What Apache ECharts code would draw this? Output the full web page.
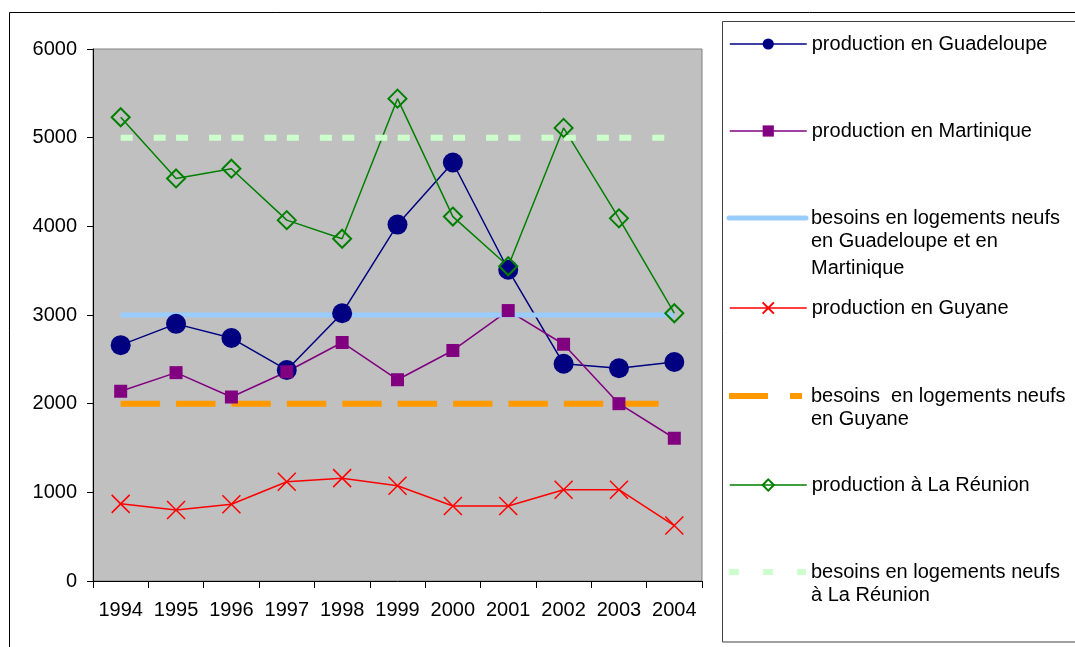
<!DOCTYPE html>
<html>
<head>
<meta charset="utf-8">
<script src="https://cdn.jsdelivr.net/npm/echarts@6/dist/echarts.min.js"></script>
<style>html,body{margin:0;padding:0;background:#fff}#c{width:1075px;height:647px}</style>
</head>
<body>
<div id="c"></div>
<script>
const years = ['1994','1995','1996','1997','1998','1999','2000','2001','2002','2003','2004'];
const yTicks = [0, 1000, 2000, 3000, 4000, 5000, 6000];
const prodGuadeloupe = [2660, 2900, 2740, 2380, 3020, 4020, 4720, 3510, 2450, 2400, 2470];
const prodMartinique = [2140, 2350, 2075, 2360, 2690, 2270, 2600, 3050, 2670, 2000, 1610];
const besoinsGM = [3000, 3000, 3000, 3000, 3000, 3000, 3000, 3000, 3000, 3000, 3000];
const prodGuyane = [870, 800, 865, 1120, 1160, 1075, 845, 845, 1030, 1030, 625];
const besoinsGuyane = [2000, 2000, 2000, 2000, 2000, 2000, 2000, 2000, 2000, 2000, 2000];
const prodReunion = [5230, 4540, 4650, 4070, 3860, 5440, 4110, 3550, 5110, 4090, 3020];
const besoinsReunion = [5000, 5000, 5000, 5000, 5000, 5000, 5000, 5000, 5000, 5000, 5000];
const names = [
  'production en Guadeloupe',
  'production en Martinique',
  'besoins en logements neufs\nen Guadeloupe et en\nMartinique',
  'production en Guyane',
  'besoins  en logements neufs\nen Guyane',
  'production à La Réunion',
  'besoins en logements neufs\nà La Réunion'
];

const FONT = 'Liberation Sans, Arial, sans-serif';
const legendCenters = [41, 128, 215, 305, 393, 482, 569];
const legendX = 729, textX = 811, lineStep = 26.5;

// per-legend icon styling
const legendLine = [
  { width: 1.5 },
  { width: 1.5 },
  { width: 5, cap: 'round' },
  { width: 1.5 },
  { width: 6, type: [39, 22, 12, 100] },
  { width: 1.5 },
  { width: 6, type: [10, 24] }
];
const noMarker = [false, false, true, false, true, false, true];

const chart = echarts.init(document.getElementById('c'));

const legends = names.map((n, i) => {
  const lw = legendLine[i].width;
  const lg = {
    data: [n],
    left: noMarker[i] ? legendX - lw / 2 : legendX,
    top: legendCenters[i] - 7,
    orient: 'vertical',
    padding: 0,
    itemWidth: 77,
    itemHeight: 14,
    selectedMode: false,
    formatter: (name) => name.split('\n')[0],
    textStyle: { fontSize: 20, fontFamily: FONT, color: '#000' },
    lineStyle: legendLine[i]
  };
  if (noMarker[i]) lg.itemStyle = { color: 'rgba(0,0,0,0)', borderColor: 'rgba(0,0,0,0)', borderWidth: 0 };
  return lg;
});

const extraTexts = [];
names.forEach((n, i) => {
  const lines = n.split('\n');
  for (let k = 1; k < lines.length; k++) {
    extraTexts.push({
      type: 'text',
      x: textX,
      y: legendCenters[i] + k * lineStep,
      z: 10,
      style: { text: lines[k], fontSize: 20, fontFamily: FONT, fill: '#000', verticalAlign: 'middle', align: 'left' }
    });
  }
});

const option = {
  animation: false,
  backgroundColor: '#ffffff',
  grid: {
    left: 93, top: 49, width: 609, height: 532,
    show: true, backgroundColor: '#C0C0C0', borderColor: '#808080', borderWidth: 1
  },
  legend: legends,
  graphic: [
    { type: 'rect', z: -1, shape: { x: 9.5, y: 12.5, width: 1100, height: 700 }, style: { fill: 'none', stroke: '#000', lineWidth: 1 } },
    { type: 'rect', z: -1, shape: { x: 722.5, y: 21.5, width: 400, height: 620.5 }, style: { fill: '#fff', stroke: '#404040', lineWidth: 1 } }
  ].concat(extraTexts),
  xAxis: {
    type: 'category',
    data: years,
    boundaryGap: true,
    axisLine: { show: true, lineStyle: { color: '#000', width: 1 } },
    axisTick: { show: true, alignWithLabel: false, length: 7, lineStyle: { color: '#000' } },
    axisLabel: { interval: 0, margin: 19, fontSize: 20, fontFamily: FONT, color: '#000' },
    splitLine: { show: false }
  },
  yAxis: {
    type: 'value',
    min: yTicks[0], max: yTicks[yTicks.length - 1], interval: 1000,
    axisLine: { show: true, lineStyle: { color: '#000', width: 1 } },
    axisTick: { show: true, length: 6, lineStyle: { color: '#000' } },
    axisLabel: { margin: 16, fontSize: 20, fontFamily: FONT, color: '#000', formatter: (v) => String(v) },
    splitLine: { show: false }
  },
  series: [
    {
      name: names[0], type: 'line', data: prodGuadeloupe,
      symbol: 'circle', symbolSize: 20, showAllSymbol: true,
      lineStyle: { color: '#000080', width: 1.5 },
      itemStyle: { color: '#000080' }
    },
    {
      name: names[1], type: 'line', data: prodMartinique,
      symbol: 'rect', symbolSize: 13, showAllSymbol: true,
      lineStyle: { color: '#800080', width: 1.5 },
      itemStyle: { color: '#800080' }
    },
    {
      name: names[2], type: 'line', data: besoinsGM,
      symbol: 'none',
      lineStyle: { color: '#99CCFF', width: 5 },
      itemStyle: { color: '#99CCFF' }
    },
    {
      name: names[3], type: 'line', data: prodGuyane,
      symbol: 'path://M0,0L10,10M10,0L0,10', symbolSize: 18, showAllSymbol: true,
      lineStyle: { color: '#FF0000', width: 1.5 },
      itemStyle: { color: 'transparent', borderColor: '#FF0000', borderWidth: 1.5 }
    },
    {
      name: names[4], type: 'line', data: besoinsGuyane,
      symbol: 'none',
      lineStyle: { color: '#FF9900', width: 6, type: [39.4, 16] },
      itemStyle: { color: '#FF9900' }
    },
    {
      name: names[5], type: 'line', data: prodReunion,
      symbol: 'diamond', symbolSize: 18, showAllSymbol: true,
      lineStyle: { color: '#008000', width: 1.5 },
      itemStyle: { color: 'transparent', borderColor: '#008000', borderWidth: 2 }
    },
    {
      name: names[6], type: 'line', data: besoinsReunion,
      symbol: 'none',
      lineStyle: { color: '#CCFFCC', width: 6, type: [12, 21, 12, 10.4] },
      itemStyle: { color: '#CCFFCC' }
    }
  ]
};
chart.setOption(option);
</script>
</body>
</html>
